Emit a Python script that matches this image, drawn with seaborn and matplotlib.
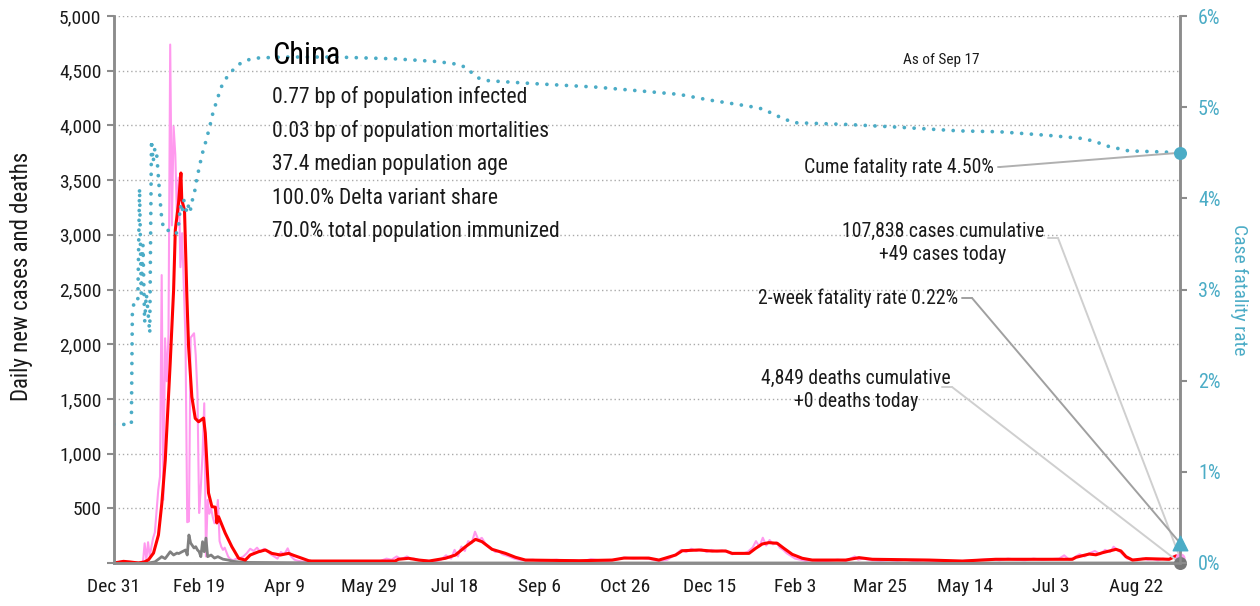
import matplotlib
matplotlib.use("Agg")
import matplotlib.pyplot as plt
import matplotlib.dates as mdates
from matplotlib import font_manager as fm
from matplotlib.ticker import FixedLocator, FuncFormatter
import pandas as pd
import seaborn as sns

# ---------------- data ----------------
START = "2019-12-31"
END_DAY = 626  # Sep 17, 2021

# raw daily new cases (pink)
case_days = [0, 1, 5, 6, 16, 17, 18, 19, 20, 21, 22, 23, 24, 25, 26, 27, 28, 29, 30, 31,
             32, 33, 34, 35, 36, 37, 38, 39, 40, 41, 42, 43, 44, 45, 46, 47, 48, 49, 50, 51,
             52, 53, 54, 55, 56, 57, 58, 59, 60, 61, 62, 63, 64, 65, 66, 67, 68, 69, 70, 72,
             74, 76, 78, 80, 82, 84, 86, 88, 90, 92, 94, 96, 98, 100, 102, 104, 106, 108, 112, 116,
             120, 125, 130, 135, 140, 145, 150, 155, 160, 163, 166, 168, 170, 172, 174, 176, 180, 184, 188, 192,
             195, 198, 200, 202, 204, 206, 208, 210, 212, 214, 216, 218, 220, 222, 224, 226, 228, 230, 232, 235,
             238, 242, 246, 250, 255, 260, 265, 270, 275, 280, 285, 290, 295, 300, 305, 310, 315, 320, 325, 330,
             333, 336, 339, 342, 345, 348, 351, 354, 357, 360, 363, 366, 369, 372, 375, 377, 379, 381, 383, 385,
             387, 389, 391, 393, 395, 397, 400, 403, 406, 410, 415, 420, 425, 430, 435, 437, 440, 445, 450, 455,
             460, 465, 470, 475, 480, 485, 490, 495, 500, 505, 510, 515, 520, 525, 530, 535, 540, 545, 550, 555,
             558, 561, 564, 567, 570, 573, 576, 579, 582, 585, 587, 589, 591, 593, 595, 598, 601, 604, 607, 610,
             613, 616, 619, 622, 624, 626]
case_values = [27, 0, 17, 0, 0, 5, 180, 30, 190, 60, 150, 230, 280, 480, 670, 790, 2632, 578, 2054, 1661,
               2089, 4739, 3086, 3991, 3733, 3147, 3523, 2704, 3015, 2525, 2032, 373, 380, 2060, 2080, 2100, 1900, 1554, 457, 700,
               1000, 1460, 60, 576, 450, 500, 420, 363, 400, 576, 200, 149, 120, 140, 100, 60, 40, 30, 25, 40,
               45, 60, 90, 130, 110, 140, 100, 130, 110, 80, 60, 40, 100, 80, 134, 60, 30, 20, 10, 5,
               10, 5, 10, 5, 12, 8, 15, 10, 40, 30, 60, 40, 45, 60, 35, 40, 25, 20, 15, 30,
               70, 40, 120, 60, 150, 110, 200, 180, 286, 210, 230, 180, 150, 130, 100, 110, 80, 70, 60, 40,
               30, 25, 30, 20, 25, 30, 20, 25, 15, 35, 25, 20, 30, 50, 40, 45, 35, 20, 30, 80,
               120, 100, 130, 110, 125, 100, 120, 105, 115, 100, 80, 90, 85, 100, 140, 200, 150, 231, 160, 210,
               170, 190, 140, 120, 90, 70, 40, 30, 20, 25, 15, 20, 30, 20, 60, 30, 40, 25, 20, 25,
               20, 30, 15, 25, 20, 15, 20, 10, 20, 25, 30, 35, 25, 40, 30, 25, 40, 30, 35, 40,
               70, 30, 50, 80, 60, 90, 110, 80, 120, 100, 149, 120, 100, 70, 40, 30, 25, 40, 30, 35,
               25, 40, 30, 60, 70, 49]

# 7-day average of new cases (red)
avg_days = [0, 5.6, 9.1, 14.4, 17.9, 20.3, 23.2, 26.1, 28.1, 30.1, 31.0, 33.0, 35.0, 36.0, 37.9, 39.3,
            39.8, 41.4, 42.8, 43.8, 45.7, 47.7, 49.7, 52.6, 53.6, 55.5, 57.5, 59.5, 60.4, 61.4, 65.3, 69.2,
            73.2, 77.1, 80.0, 84.9, 88.9, 92.7, 97.7, 102.5, 105.5, 110.4, 114.3, 116, 165, 167,
            173, 179, 185, 194.6, 200.5, 206.4, 212.3, 216.1, 222, 229.9, 235.8, 241.6, 273, 292.5,
            299.4, 314, 320, 329.8, 333.7, 343.5, 351.3, 359.2, 363, 372.9, 376.8, 380.7, 384.6, 389.5,
            393.4, 398.3, 404.2, 410, 429.7, 437.5, 445.3, 478.7, 498.2, 517.8, 562.8, 564.9, 572.7, 576.6,
            580.5, 588.4, 591.3, 594.3, 598.1, 606, 619.7, 623.6, 626]
avg_values = [0, 15, 10, 0, 10, 30, 91, 256, 548, 940, 1216, 1828, 2495, 3044, 3290, 3565,
              3318, 3227, 2434, 1977, 1520, 1322, 1291, 1325, 1188, 640, 515, 510, 366, 423, 274, 149,
              43, 27, 73, 103, 119, 88, 73, 88, 70, 43, 21, 18, 18, 34,
              43, 27, 18, 43, 73, 149, 216, 195, 125, 88, 52, 27, 21, 27,
              45, 45, 27, 73, 112, 119, 109, 110, 88, 88, 134, 174, 186, 180,
              134, 79, 43, 27, 27, 49, 34, 27, 18, 34, 34, 52, 82, 75,
              94, 125, 110, 58, 27, 40, 34, 64, 50]

# daily deaths (grey)
death_days = [0, 20, 24, 27, 28, 30, 31, 33, 35, 37, 38, 40, 42, 43, 44, 45, 46, 47, 48, 49,
              50, 51, 52, 53, 54, 55, 57, 59, 61, 64, 67, 70, 73, 79, 90, 110, 120, 626]
death_values = [0, 0, 10, 45, 58, 40, 60, 103, 73, 91, 86, 103, 119, 73, 256, 183, 160, 137, 149, 120,
                103, 58, 195, 103, 228, 58, 73, 45, 58, 35, 27, 15, 10, 5, 4, 2, 0, 0]

# cumulative case fatality rate, % (teal, right axis)
cfr_days = [0, 10.2, 10.8, 11.5, 12, 13, 14, 15, 16, 17, 18, 19, 20, 21, 22, 23, 24, 25, 26, 27,
            28, 29, 30, 31, 32, 33, 34, 35, 36, 37, 38, 39, 40, 41, 42, 43, 44, 45, 46, 47,
            48, 49, 50, 51, 52, 53, 54, 55, 56, 57, 58, 59, 60, 61, 62, 63, 64, 66, 69, 72,
            75, 79, 85, 100, 130, 165, 190, 202, 206, 210, 214, 220, 245, 283, 314, 332, 349, 373, 381, 390,
            399, 431, 461, 496, 520, 549, 567, 575, 584, 596, 614, 626]
cfr_values = [1.52, 1.52, 2.80, 2.83, 2.88, 2.87, 2.90, 4.11, 2.96, 3.49, 2.64, 2.95, 2.75, 2.52, 4.64, 4.40, 4.55, 4.50, 4.25, 4.00,
              3.78, 3.68, 3.66, 3.64, 3.65, 3.66, 3.64, 3.63, 3.62, 3.62, 3.72, 3.92, 3.84, 3.98, 3.90, 3.84, 3.95, 3.88, 3.98, 4.03,
              4.15, 4.25, 4.33, 4.42, 4.50, 4.56, 4.63, 4.70, 4.77, 4.85, 4.93, 4.99, 5.05, 5.11, 5.16, 5.22, 5.26, 5.32, 5.39, 5.45,
              5.49, 5.52, 5.54, 5.55, 5.55, 5.53, 5.50, 5.47, 5.44, 5.38, 5.32, 5.29, 5.26, 5.22, 5.17, 5.14, 5.08, 5.01, 4.98, 4.90,
              4.83, 4.81, 4.78, 4.74, 4.73, 4.69, 4.66, 4.63, 4.57, 4.52, 4.51, 4.50]

tick_days = [0, 50, 100, 150, 200, 250, 300, 350, 400, 450, 500, 550, 600]
left_ticks = [0, 500, 1000, 1500, 2000, 2500, 3000, 3500, 4000, 4500, 5000]
right_ticks = [0, 1, 2, 3, 4, 5, 6]

last_cases = 49
last_deaths = 0
last_cfr = 4.50
last_cfr_2w = 0.22

title = "China"
stats_lines = ["0.77 bp of population infected",
               "0.03 bp of population mortalities",
               "37.4 median population age",
               "100.0% Delta variant share",
               "70.0% total population immunized"]
as_of = "As of Sep 17"
cume_label = "Cume fatality rate 4.50%"
cases_label = "107,838 cases cumulative\n+49 cases today"
rate2w_label = "2-week fatality rate 0.22%"
deaths_label = "4,849 deaths cumulative\n+0 deaths today"
left_label = "Daily new cases and deaths"
right_label = "Case fatality rate"

# ---------------- styling ----------------
PINK = "#FF99EE"
RED = "#FF0000"
GREY = "#808080"
TEAL = "#4BACC6"
AXIS = "#8C8C8C"
TXT = "#1A1A1A"

sns.set_theme(style="white")
available = {f.name for f in fm.fontManager.ttflist}
FONT = None
for cand in ["Roboto Condensed", "Liberation Sans Narrow", "Open Sans Condensed",
             "Noto Sans Condensed", "Arial Narrow"]:
    if cand in available:
        FONT = cand
        break
stretch = "normal"
if FONT is None:
    FONT = "DejaVu Sans"
    if any(f.name == "DejaVu Sans" and "condensed" in str(f.stretch) for f in fm.fontManager.ttflist):
        stretch = "condensed"
plt.rcParams["font.family"] = [FONT, "DejaVu Sans"]
plt.rcParams["font.stretch"] = stretch

W, H = 1260, 606
L, R, T, B = 114, 1180, 16, 563

fig = plt.figure(figsize=(W / 100, H / 100), dpi=100)
ax = fig.add_axes([L / W, (H - B) / H, (R - L) / W, (B - T) / H])

t0 = pd.Timestamp(START)
def to_dates(days):
    return t0 + pd.to_timedelta(days, unit="D")

df_cases = pd.DataFrame({"date": to_dates(case_days), "value": case_values})
df_avg = pd.DataFrame({"date": to_dates(avg_days), "value": avg_values})
df_deaths = pd.DataFrame({"date": to_dates(death_days), "value": death_values})
df_cfr = pd.DataFrame({"date": to_dates(cfr_days), "value": cfr_values})

sns.lineplot(data=df_cases, x="date", y="value", ax=ax, color=PINK, linewidth=1.5, estimator=None)
sns.lineplot(data=df_deaths, x="date", y="value", ax=ax, color=GREY, linewidth=2.0, estimator=None)
sns.lineplot(data=df_avg, x="date", y="value", ax=ax, color=RED, linewidth=2.2, estimator=None)

ax.set_xlim(t0, t0 + pd.Timedelta(days=END_DAY))
ax.set_ylim(0, 5000)

ax2 = ax.twinx()
sns.lineplot(data=df_cfr, x="date", y="value", ax=ax2, color=TEAL, linewidth=2.7, estimator=None)
cfr_line = ax2.get_lines()[-1]
cfr_line.set_linestyle((0, (0.01, 2.6)))
cfr_line.set_dash_capstyle("round")
ax2.set_ylim(0, 6)
ax2.set_xlim(t0, t0 + pd.Timedelta(days=END_DAY))

# axes cosmetics
for a in (ax, ax2):
    a.set_xlabel("")
    a.set_ylabel("")
    a.spines["top"].set_visible(False)
    for s in ("left", "right", "bottom"):
        a.spines[s].set_color(AXIS)
        a.spines[s].set_linewidth(1.8)

ax.yaxis.set_major_locator(FixedLocator(left_ticks))
ax.yaxis.set_major_formatter(FuncFormatter(lambda v, p: "" if v == 0 else f"{int(v):,}"))
ax.grid(axis="y", color="#AAAAAA", linestyle=(0, (1, 2)), linewidth=1.0)
ax.grid(axis="x", visible=False)
ax.set_axisbelow(True)
ax.tick_params(axis="y", direction="out", length=5, width=1.5, color=AXIS,
               labelsize=14, labelcolor=TXT, pad=4)

ax.xaxis.set_major_locator(FixedLocator(mdates.date2num(to_dates(tick_days))))
ax.xaxis.set_major_formatter(mdates.DateFormatter("%b %-d"))
ax.tick_params(axis="x", direction="out", length=5, width=1.5, color=AXIS,
               labelsize=14, labelcolor=TXT, pad=6)

ax2.yaxis.set_major_locator(FixedLocator(right_ticks))
ax2.yaxis.set_major_formatter(FuncFormatter(lambda v, p: f"{int(v)}%"))
ax2.tick_params(axis="y", direction="out", length=5, width=1.5, color=AXIS,
                labelsize=14.5, labelcolor=TEAL, pad=8)
ax2.grid(False)

ax.set_ylabel(left_label, fontsize=16.5, color=TXT)
ax.yaxis.set_label_coords(-(114 - 33) / (R - L), (B - 276) / (B - T))
ax2.set_ylabel(right_label, fontsize=14, color=TEAL, rotation=270, labelpad=20)

# end markers
end_date = t0 + pd.Timedelta(days=END_DAY)
ax.scatter([end_date], [last_cases], s=40, color=PINK, zorder=6, clip_on=False)
ax.scatter([end_date], [last_deaths], s=70, color="#777777", zorder=7, clip_on=False)
ax2.scatter([end_date], [last_cfr], s=70, color=TEAL, zorder=7, clip_on=False)
ax2.scatter([end_date], [last_cfr_2w], s=110, marker="^", color=TEAL, zorder=7, clip_on=False)

def fx(px):
    return (px - L) / (R - L)

def fy(py):
    return (B - py) / (B - T)

# text block
ax2.text(fx(272), fy(55), title, transform=ax2.transAxes, fontsize=22, color="black",
         ha="left", va="center")
for i, line in enumerate(stats_lines):
    ax2.text(fx(272), fy(97 + i * 33.7), line, transform=ax2.transAxes, fontsize=15.5,
             color=TXT, ha="left", va="center")
ax2.text(fx(941), fy(60), as_of, transform=ax2.transAxes, fontsize=11, color=TXT,
         ha="center", va="center")

# annotation texts
ax2.text(fx(994), fy(167), cume_label, transform=ax2.transAxes, fontsize=14.2, color=TXT,
         ha="right", va="center")
ax2.text(fx(943), fy(243), cases_label, transform=ax2.transAxes, fontsize=14.2, color=TXT,
         ha="center", va="center", multialignment="center", linespacing=1.25)
ax2.text(fx(958), fy(298), rate2w_label, transform=ax2.transAxes, fontsize=14.2, color=TXT,
         ha="right", va="center")
ax2.text(fx(856), fy(390), deaths_label, transform=ax2.transAxes, fontsize=14.2, color=TXT,
         ha="center", va="center", multialignment="center", linespacing=1.25)

def leader(axis, start_px, yval, color, lw=1.4):
    (x1, y1), (x2, y2) = start_px
    axis.annotate("", xy=(fx(x2), fy(y2)), xycoords="axes fraction",
                  xytext=(fx(x1), fy(y1)), textcoords="axes fraction",
                  arrowprops=dict(arrowstyle="-", color=color, lw=lw, shrinkA=0, shrinkB=0),
                  annotation_clip=False)
    axis.annotate("", xy=(mdates.date2num(end_date), yval), xycoords="data",
                  xytext=(fx(x2), fy(y2)), textcoords="axes fraction",
                  arrowprops=dict(arrowstyle="-", color=color, lw=lw, shrinkA=0, shrinkB=0),
                  annotation_clip=False)

leader(ax2, ((998, 167), (1000, 167)), last_cfr, "#B0B0B0")
leader(ax, ((1048, 238), (1058, 238)), last_cases, "#CFCFCF")
leader(ax2, ((962, 298), (972, 298)), last_cfr_2w, "#A0A0A0")
leader(ax, ((942, 387), (952, 387)), last_deaths, "#CFCFCF")

fig.savefig("out.png", dpi=100)
